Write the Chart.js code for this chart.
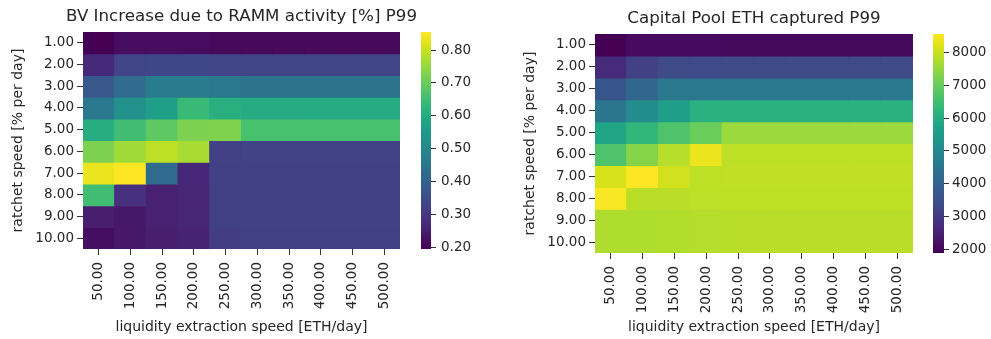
<!DOCTYPE html>
<html>
<head>
<meta charset="utf-8">
<title>RAMM heatmaps</title>
<script src="https://cdn.jsdelivr.net/npm/chart.js@4/dist/chart.umd.min.js"></script>
<style>
  html, body { margin: 0; padding: 0; background: #fff; }
  body { position: relative; width: 991px; height: 339px; overflow: hidden; }
  canvas { position: absolute; top: 0; }
</style>
</head>
<body>
<canvas id="bvChart" width="430" height="339" style="left:0"></canvas>
<canvas id="bvBar" width="80" height="339" style="left:411px"></canvas>
<canvas id="poolChart" width="423" height="339" style="left:490px"></canvas>
<canvas id="poolBar" width="68" height="339" style="left:923px"></canvas>
<script>
// x: liquidity extraction speed, y: ratchet speed
const extractionSpeed = ['50.00', '100.00', '150.00', '200.00', '250.00', '300.00', '350.00', '400.00', '450.00', '500.00'];
const ratchetSpeed = ['1.00', '2.00', '3.00', '4.00', '5.00', '6.00', '7.00', '8.00', '9.00', '10.00'];

// BV increase [%], one row per ratchet speed
const bvIncrease = [
  [0.195, 0.220, 0.220, 0.218, 0.212, 0.212, 0.212, 0.212, 0.212, 0.212],
  [0.272, 0.330, 0.335, 0.335, 0.332, 0.330, 0.330, 0.330, 0.330, 0.330],
  [0.375, 0.425, 0.468, 0.468, 0.455, 0.445, 0.445, 0.445, 0.445, 0.445],
  [0.460, 0.525, 0.565, 0.640, 0.610, 0.600, 0.600, 0.600, 0.600, 0.600],
  [0.605, 0.650, 0.690, 0.725, 0.728, 0.662, 0.662, 0.662, 0.662, 0.662],
  [0.725, 0.760, 0.790, 0.770, 0.320, 0.322, 0.322, 0.322, 0.322, 0.322],
  [0.835, 0.855, 0.420, 0.270, 0.318, 0.320, 0.320, 0.320, 0.320, 0.320],
  [0.650, 0.285, 0.255, 0.265, 0.318, 0.320, 0.320, 0.320, 0.320, 0.320],
  [0.250, 0.240, 0.255, 0.265, 0.318, 0.320, 0.320, 0.320, 0.320, 0.320],
  [0.222, 0.240, 0.250, 0.260, 0.315, 0.318, 0.318, 0.318, 0.318, 0.318]
];

// Capital pool ETH captured, one row per ratchet speed
const capitalPool = [
  [1890, 2090, 2100, 2090, 2080, 2080, 2080, 2080, 2080, 2080],
  [2690, 3160, 3360, 3370, 3360, 3360, 3360, 3360, 3360, 3360],
  [3650, 4090, 4560, 4570, 4560, 4560, 4560, 4560, 4560, 4560],
  [4480, 5090, 5650, 6120, 6120, 6120, 6120, 6120, 6120, 6120],
  [5830, 6290, 6690, 7030, 7560, 7560, 7560, 7560, 7560, 7560],
  [6690, 7360, 7830, 8360, 7890, 7890, 7890, 7890, 7890, 7890],
  [8160, 8560, 8090, 7890, 7930, 7930, 7930, 7930, 7930, 7930],
  [8530, 7860, 7860, 7880, 7900, 7900, 7900, 7900, 7900, 7900],
  [7760, 7760, 7780, 7800, 7850, 7850, 7850, 7850, 7850, 7850],
  [7760, 7760, 7780, 7800, 7850, 7850, 7850, 7850, 7850, 7850]
];

const bvTicks = [0.2, 0.3, 0.4, 0.5, 0.6, 0.7, 0.8];
const poolTicks = [2000, 3000, 4000, 5000, 6000, 7000, 8000];

Chart.defaults.font.family = "'DejaVu Sans', sans-serif";
Chart.defaults.color = '#262626';

// viridis colormap, 21 evenly spaced stops
const VIRIDIS = [
  '#440154', '#471164', '#482475', '#463480', '#414487', '#3b528b', '#355f8d',
  '#2f6c8e', '#2a788e', '#25848e', '#21918c', '#1e9c89', '#22a884', '#2fb47c',
  '#44bf70', '#5ec962', '#7ad151', '#9bd93c', '#bddf26', '#dfe318', '#fde725'
];

function hexToRgb(h) {
  return [1, 3, 5].map(i => parseInt(h.slice(i, i + 2), 16));
}

function viridis(t) {
  t = Math.min(1, Math.max(0, t));
  const pos = t * (VIRIDIS.length - 1);
  const i = Math.min(Math.floor(pos), VIRIDIS.length - 2);
  const f = pos - i;
  const a = hexToRgb(VIRIDIS[i]), b = hexToRgb(VIRIDIS[i + 1]);
  const c = a.map((v, k) => Math.round(v + (b[k] - v) * f));
  return `rgb(${c[0]}, ${c[1]}, ${c[2]})`;
}

function colourScale(values) {
  const flat = values.flat();
  const lo = Math.min(...flat), hi = Math.max(...flat);
  return { lo, hi, colour: v => viridis((v - lo) / (hi - lo)) };
}

const tickFont = { size: 13.5 };
const labelFont = { size: 14 };

// title centred over the heatmap itself, allowed to run wider than it
const heatmapTitle = {
  id: 'heatmapTitle',
  afterDraw(chart, args, opts) {
    const { ctx, chartArea } = chart;
    ctx.save();
    ctx.font = `${opts.size}px 'DejaVu Sans', sans-serif`;
    ctx.fillStyle = '#262626';
    ctx.textAlign = 'center';
    ctx.textBaseline = 'middle';
    ctx.fillText(opts.text, (chartArea.left + chartArea.right) / 2, opts.y);
    ctx.restore();
  }
};

function drawHeatmap(id, title, values, box) {
  const scale = colourScale(values);
  new Chart(document.getElementById(id), {
    type: 'bar',
    plugins: [heatmapTitle],
    data: {
      labels: extractionSpeed,
      // each ratchet speed is one stacked row of unit cells
      datasets: ratchetSpeed.map((r, i) => ({
        label: r,
        data: extractionSpeed.map(() => 1),
        backgroundColor: values[i].map(scale.colour),
        borderWidth: 0,
        barPercentage: 1,
        categoryPercentage: 1,
        inflateAmount: 0.6
      }))
    },
    options: {
      responsive: false,
      animation: false,
      devicePixelRatio: 1,
      layout: { padding: { top: box.top, right: box.right, left: 0, bottom: 0 } },
      plugins: {
        legend: { display: false },
        tooltip: { enabled: false },
        heatmapTitle: { text: title, size: 16.7, y: box.titleY }
      },
      scales: {
        x: {
          stacked: true,
          afterFit: a => { a.height = box.xHeight; a.paddingLeft = 0; a.paddingRight = 0; },
          ticks: { autoSkip: false, minRotation: 90, maxRotation: 90, padding: 7, font: tickFont },
          grid: { offset: false, drawOnChartArea: false, tickLength: 6, tickColor: '#333' },
          border: { display: false },
          title: {
            display: true,
            text: 'liquidity extraction speed [ETH/day]',
            font: labelFont,
            padding: { top: 0, bottom: box.xTitlePad }
          }
        },
        y: {
          type: 'linear',
          stacked: true,
          reverse: true,
          min: 0,
          max: ratchetSpeed.length,
          afterBuildTicks: a => { a.ticks = ratchetSpeed.map((_, i) => ({ value: i + 0.5 })); },
          afterFit: a => { a.width = box.yWidth; a.paddingTop = 0; a.paddingBottom = 0; },
          ticks: { autoSkip: false, padding: 3, font: tickFont, callback: (v, i) => ratchetSpeed[i] },
          grid: { drawOnChartArea: false, tickLength: 6, tickColor: '#333' },
          border: { display: false },
          title: {
            display: true,
            text: 'ratchet speed [% per day]',
            font: labelFont,
            padding: { top: box.yTitlePad, bottom: 0 }
          }
        }
      }
    }
  });
  return scale;
}

function viridisGradient(chart) {
  const area = chart.chartArea;
  if (!area) return VIRIDIS[0];
  const g = chart.ctx.createLinearGradient(0, area.bottom, 0, area.top);
  VIRIDIS.forEach((c, i) => g.addColorStop(i / (VIRIDIS.length - 1), c));
  return g;
}

function drawColourbar(id, scale, ticks, fmt, box) {
  new Chart(document.getElementById(id), {
    type: 'bar',
    data: {
      labels: [''],
      datasets: [{
        data: [[scale.lo, scale.hi]],
        backgroundColor: ctx => viridisGradient(ctx.chart),
        borderWidth: 0,
        borderSkipped: false,
        barPercentage: 1,
        categoryPercentage: 1
      }]
    },
    options: {
      responsive: false,
      animation: false,
      devicePixelRatio: 1,
      layout: { padding: { left: box.left, top: box.top, bottom: box.bottom, right: 0 } },
      plugins: { legend: { display: false }, tooltip: { enabled: false } },
      scales: {
        x: { display: false },
        y: {
          position: 'right',
          min: scale.lo,
          max: scale.hi,
          afterBuildTicks: a => { a.ticks = ticks.map(v => ({ value: v })); },
          afterFit: a => { a.width = box.axisWidth; a.paddingTop = 0; a.paddingBottom = 0; },
          ticks: { autoSkip: false, padding: box.tickPad, font: tickFont, callback: fmt },
          grid: { drawOnChartArea: false, tickLength: 5, tickColor: '#333' },
          border: { display: false }
        }
      }
    }
  });
}

const bvScale = drawHeatmap('bvChart', 'BV Increase due to RAMM activity [%] P99', bvIncrease,
  { top: 32, right: 30, titleY: 17, xHeight: 90, xTitlePad: 3.6, yWidth: 83, yTitlePad: 10.1 });
drawColourbar('bvBar', bvScale, bvTicks, v => v.toFixed(2),
  { left: 10, top: 32, bottom: 90, axisWidth: 60, tickPad: 5 });

const poolScale = drawHeatmap('poolChart', 'Capital Pool ETH captured P99', capitalPool,
  { top: 34, right: 0, titleY: 19, xHeight: 86, xTitlePad: 3.6, yWidth: 105, yTitlePad: 31.6 });
drawColourbar('poolBar', poolScale, poolTicks, v => String(v),
  { left: 10, top: 34, bottom: 86, axisWidth: 47, tickPad: 3 });
</script>
</body>
</html>
